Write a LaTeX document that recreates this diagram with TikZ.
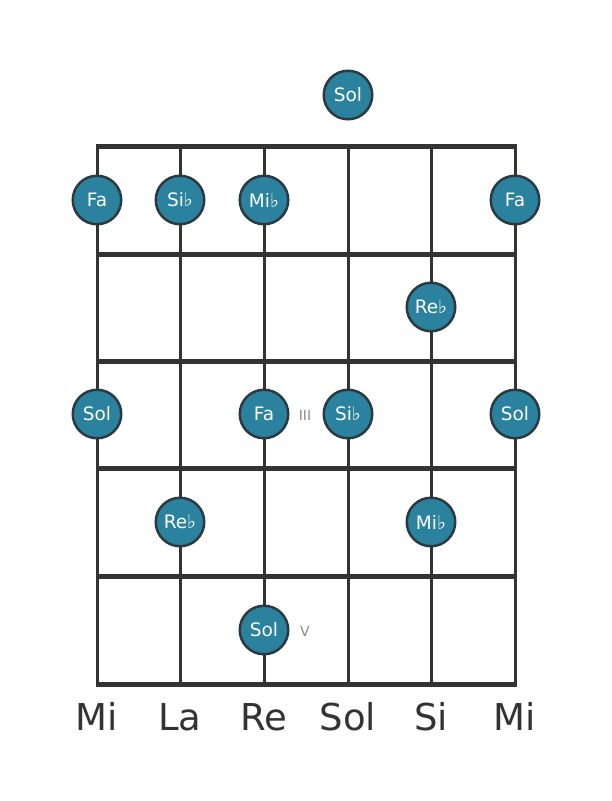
\documentclass[tikz,border=0pt]{standalone}
\usepackage{fontspec}
\setmainfont{DejaVu Sans}
\definecolor{grid}{HTML}{333333}
\definecolor{notefill}{HTML}{2A829E}
\definecolor{noteedge}{HTML}{2B3A40}
\definecolor{fretlbl}{HTML}{8A8A8A}
\newcommand{\fl}{{\fontsize{19}{19}\selectfont ♭}}
\begin{document}
\begin{tikzpicture}[x=1pt,y=-1pt,
  stringline/.style={draw=grid,line width=3pt},
  fretline/.style={draw=grid,line width=5pt},
  note/.style={circle,fill=notefill,draw=noteedge,line width=2.5pt,minimum size=48.5pt,inner sep=0pt,text=white,font=\fontsize{18.5}{18.5}\selectfont},
  strlbl/.style={text=grid,font=\fontsize{37}{37}\selectfont,anchor=base},
  fretmark/.style={text=fretlbl,font=\fontsize{14}{14}\selectfont}]
\useasboundingbox (0,0) rectangle (611,801);
\fill[white] (0,0) rectangle (611,801);
% strings
\foreach \x [count=\i] in {97,180,264,348,431,515}{
  \coordinate (st\i) at (\x,146);
  \coordinate (sb\i) at (\x,684);
  \draw[stringline] (st\i) -- (sb\i);
}
% frets
\foreach \y [count=\j] in {146,254,361,468,576,684}{
  \coordinate (fl\j) at (95.5,\y);
  \coordinate (fr\j) at (516.5,\y);
  \draw[fretline] (fl\j) -- (fr\j);
}
% notes
\node[note] (n0) at (348,95) {Sol};
\node[note] (n1) at (97,200) {Fa};
\node[note] (n2) at (180,200) {Si\fl};
\node[note] (n3) at (264,200) {Mi\fl};
\node[note] (n4) at (515,200) {Fa};
\node[note] (n5) at (431,307) {Re\fl};
\node[note] (n6) at (97,414) {Sol};
\node[note] (n7) at (264,414) {Fa};
\node[note] (n8) at (348,414) {Si\fl};
\node[note] (n9) at (515,414) {Sol};
\node[note] (n10) at (180,522) {Re\fl};
\node[note] (n11) at (431,522) {Mi\fl};
\node[note] (n12) at (264,630) {Sol};
\node[fretmark] (m3) at (305,415) {III};
\node[fretmark] (m5) at (305,631) {V};
% string names
\foreach \x/\t [count=\i] in {97/Mi,180/La,264/Re,348/Sol,431/Si,515/Mi}{
  \node[strlbl] (lbl\i) at (\x,730) {\t};
}
\end{tikzpicture}
\end{document}
